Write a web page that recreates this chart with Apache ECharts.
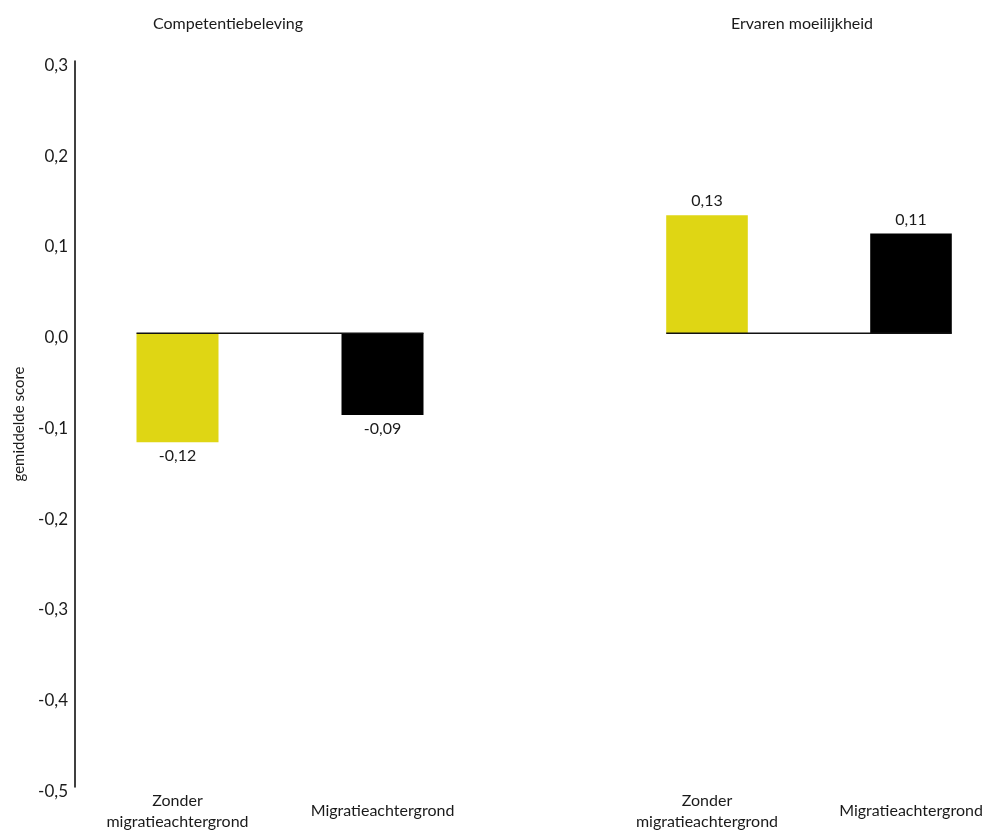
<!DOCTYPE html>
<html>
<head>
<meta charset="utf-8">
<script src="https://cdn.jsdelivr.net/npm/echarts@6/dist/echarts.min.js"></script>
<style>
  html, body { margin: 0; padding: 0; background: #fff; }
  #chart { width: 989px; height: 831px; }
</style>
</head>
<body>
<div id="chart"></div>
<script>
// Panels and groups
const panelTitles = ['Competentiebeleving', 'Ervaren moeilijkheid'];
const categories = ['Zonder\nmigratieachtergrond', 'Migratieachtergrond'];
// Mean scores per panel (without / with migration background)
const competentieValues = [-0.12, -0.09];
const moeilijkheidValues = [0.13, 0.11];
const barColors = ['#DFD614', '#000000'];
const yTicks = { min: -0.5, max: 0.3, interval: 0.1 };

const FONT = 'Lato';
const TEXT = '#1a1a1a';
const fmt = (v, d) => v.toFixed(d).replace('.', ',');

const chart = echarts.init(document.getElementById('chart'));

const grids = [
  { left: 75, top: 61, width: 410, height: 726, outerBoundsMode: 'none', containLabel: false },
  { left: 605, top: 61, width: 408, height: 726, outerBoundsMode: 'none', containLabel: false }
];

function catAxis(gi) {
  return {
    type: 'category', gridIndex: gi, data: categories,
    axisLine: { show: false }, axisTick: { show: false },
    axisLabel: { color: TEXT, fontFamily: FONT, fontSize: 16, lineHeight: 21,
                 verticalAlign: 'middle', margin: 24 }
  };
}
// Hidden helper axis aligned with category centres (0 and 1) for the baseline
function helperAxis(gi) {
  return { type: 'value', gridIndex: gi, min: -0.5, max: 1.5, show: false };
}
function valAxis(gi, visible) {
  return {
    type: 'value', gridIndex: gi, min: yTicks.min, max: yTicks.max, interval: yTicks.interval,
    show: visible,
    name: visible ? 'gemiddelde score' : '',
    nameLocation: 'middle', nameGap: 48,
    nameTextStyle: { color: TEXT, fontFamily: FONT, fontSize: 15 },
    axisLine: { show: true, onZero: false, lineStyle: { color: '#000', width: 1.5 } },
    axisTick: { show: false },
    splitLine: { show: false },
    axisLabel: { color: TEXT, fontFamily: FONT, fontSize: 17, margin: 7,
                 verticalAlign: 'top', lineHeight: 9, formatter: v => fmt(v, 1) }
  };
}

function barSeries(gi, values) {
  return {
    type: 'bar', xAxisIndex: gi * 2, yAxisIndex: gi, barWidth: '40%',
    data: values.map((v, i) => ({ value: v, itemStyle: { color: barColors[i] },
      label: { position: v < 0 ? 'bottom' : 'top' } })),
    label: { show: true, color: TEXT, fontFamily: FONT, fontSize: 16, distance: 6,
             formatter: p => fmt(p.value, 2) },
    z: 2
  };
}
function baseline(gi) {
  return {
    type: 'line', xAxisIndex: gi * 2 + 1, yAxisIndex: gi,
    data: [[-0.2, 0], [1.2, 0]], symbol: 'none', silent: true,
    lineStyle: { color: '#111', width: 1.5 }, z: 3
  };
}

const titleStyle = { color: TEXT, fontFamily: FONT, fontSize: 16, fontWeight: 'normal' };
chart.setOption({
  animation: false,
  title: [
    { text: panelTitles[0], left: 223, top: 11, textAlign: 'center', textStyle: titleStyle },
    { text: panelTitles[1], left: 797, top: 11, textAlign: 'center', textStyle: titleStyle }
  ],
  grid: grids,
  xAxis: [catAxis(0), helperAxis(0), catAxis(1), helperAxis(1)],
  yAxis: [valAxis(0, true), valAxis(1, false)],
  series: [
    barSeries(0, competentieValues), baseline(0),
    barSeries(1, moeilijkheidValues), baseline(1)
  ]
});
</script>
</body>
</html>
